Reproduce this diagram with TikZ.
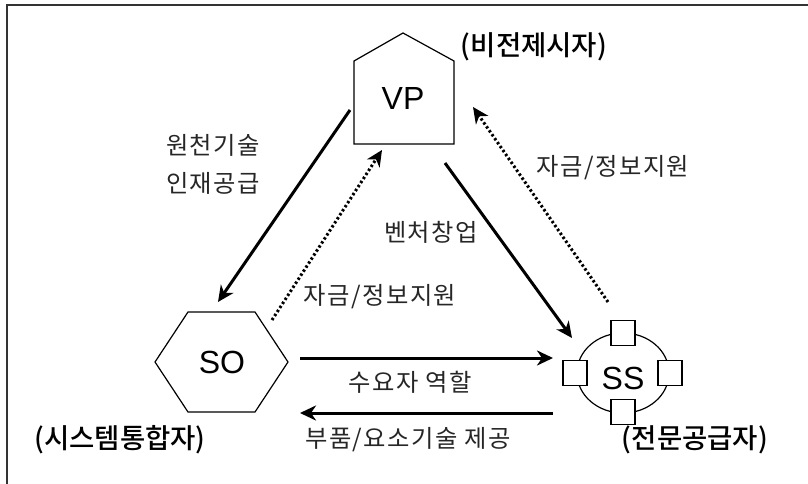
\documentclass[tikz,border=0pt]{standalone}
\usepackage{fontspec}
\usetikzlibrary{arrows.meta,calc}
\newfontfamily\krrole{Noto Sans CJK KR Medium}
\newfontfamily\krlbl{Noto Sans CJK KR}[LetterSpace=6]
\newfontfamily\latfont{Liberation Sans}
\begin{document}
\begin{tikzpicture}[x=1pt,y=-1pt,
  shapeline/.style={line width=1.2pt,black},
  big/.style={font=\latfont\fontsize{32}{36}\selectfont,inner sep=0pt},
  lbl/.style={font=\krlbl\fontsize{24.3}{28}\selectfont,inner sep=0pt,text=black!85},
  role/.style={font=\krrole\fontsize{27.5}{32}\selectfont,inner sep=0pt},
  tip/.style={-{Stealth[length=16pt,width=15pt,inset=5pt]}},
  solidarrow/.style={tip,line width=3pt},
  dotarrow/.style={tip,line width=3pt,dash pattern=on 2.4pt off 2.4pt},
  sq/.style={draw,line width=1.2pt,fill=white,minimum width=24pt,minimum height=25pt,inner sep=0pt}
]
\useasboundingbox (0,0) rectangle (808,484);
% frame
\draw[line width=1.5pt,black!80] (7,484) -- (7,5) -- (808,5);

% VP house
\draw[shapeline] (354,144) -- (354,61) -- (403,33) -- (454,61) -- (454,144) -- cycle;
\node[big] (VP) at (403,98) {VP};
% SO hexagon
\draw[shapeline] (155,362) -- (188,312) -- (255,312) -- (288,362) -- (255,412) -- (188,412) -- cycle;
\node[big] (SO) at (222,362) {SO};
% SS
\draw[shapeline] (623,373) ellipse [x radius=46, y radius=40];
\node[sq] (sqT) at (623,333) {};
\node[sq] (sqL) at (575,373) {};
\node[sq] (sqR) at (670,373) {};
\node[sq] (sqB) at (623,412) {};
\node[big] (SS) at (623,378) {SS};

% roles
\node[role] (rVP) at (534,47) {(비전제시자)};
\node[role] (rSO) at (120,440) {(시스템통합자)};
\node[role] (rSS) at (695,440) {(전문공급자)};

% labels
\node[lbl] (l1) at (213,145) {원천기술};
\node[lbl] (l2) at (213,183) {인재공급};
\node[lbl] (l3) at (380,297) {자금/정보지원};
\node[lbl] (l4) at (431,232) {벤처창업};
\node[lbl] (l5) at (613,168) {자금/정보지원};
\node[lbl] (l6) at (410,382) {수요자 역할};
\node[lbl] (l7) at (408,440) {부품/요소기술 제공};

% connectors
\coordinate (a1s) at (350,110); \coordinate (a1e) at (218,302);
\coordinate (a2s) at (272,320); \coordinate (a2e) at (382,150);
\coordinate (a3s) at (445,163); \coordinate (a3e) at (572,338);
\coordinate (a4s) at (608,302); \coordinate (a4e) at (473,107);
\coordinate (a5s) at (300,358); \coordinate (a5e) at (553,358);
\coordinate (a6s) at (553,413); \coordinate (a6e) at (300,413);
\draw[solidarrow] (a1s) -- (a1e);
\draw[dotarrow] (a2s) -- (a2e);
\draw[solidarrow] (a3s) -- (a3e);
\draw[dotarrow] (a4s) -- (a4e);
\draw[solidarrow] (a5s) -- (a5e);
\draw[solidarrow] (a6s) -- (a6e);
\end{tikzpicture}
\end{document}
